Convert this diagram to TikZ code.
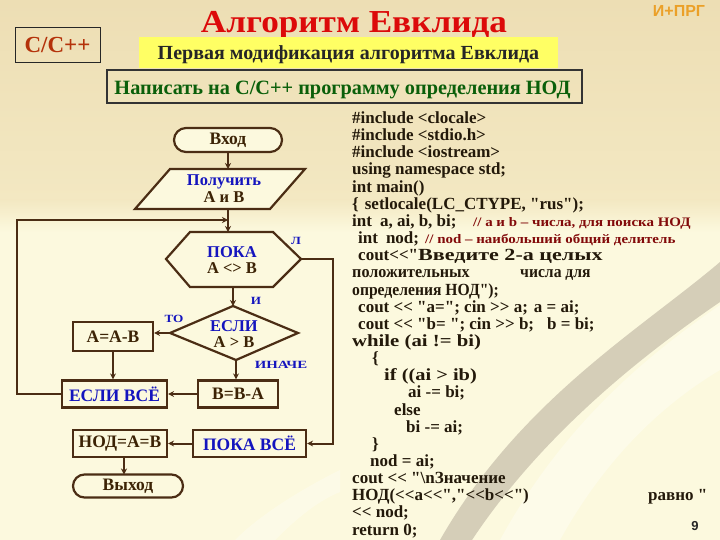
\documentclass[tikz,border=0pt]{standalone}
\usepackage{fontspec}
\setmainfont{Liberation Serif}[Ligatures=TeXOff]
\newfontfamily\mysans{Liberation Sans}
\usetikzlibrary{arrows.meta}
\definecolor{bgtop}{RGB}{237,222,180}
\definecolor{bgmid}{RGB}{243,232,194}
\definecolor{bgbot}{RGB}{252,249,222}
\definecolor{lnc}{RGB}{75,45,20}
\definecolor{kw}{RGB}{20,20,190}
\definecolor{tx}{RGB}{60,35,5}
\definecolor{cm}{RGB}{130,10,10}
\definecolor{codec}{RGB}{35,25,10}
\definecolor{titlered}{RGB}{220,10,10}
\definecolor{cpp}{RGB}{180,50,10}
\definecolor{ybox}{RGB}{255,255,100}
\definecolor{taskg}{RGB}{10,95,10}
\definecolor{iprg}{RGB}{235,160,40}
\definecolor{swoosh}{RGB}{200,192,172}
\newcommand\fsz[1]{\fontsize{#1}{#1}\selectfont\bfseries}
\newcommand\sx[2]{\scalebox{#1}[1]{#2}}
\begin{document}
\begin{tikzpicture}[x=1pt,y=-1pt,
  fbox/.style={draw=lnc,line width=2.2pt,fill=bgbot,inner sep=0pt,font=\fsz{17.5},text=tx},
  fshape/.style={draw=lnc,line width=2.2pt,fill=bgbot,line join=miter},
  arr/.style={draw=lnc,line width=2pt,-{Stealth[length=6pt,width=6pt]}},
  lbl/.style={font=\fsz{11},text=kw,inner sep=0pt},
  ftext/.style={anchor=base,font=\fsz{16.5},text=tx,inner sep=0pt},
  cl/.style={anchor=base west,inner sep=0pt,font=\fsz{17},text=codec},
  cmt/.style={anchor=base west,inner sep=0pt,font=\fsz{13},text=cm}]
\useasboundingbox (0,0) rectangle (720,540);
% background
\shade[top color=bgtop,bottom color=bgmid] (0,0) rectangle (720,200);
\shade[top color=bgmid,bottom color=bgbot] (0,200) rectangle (720,232);
\fill[bgbot] (0,232) rectangle (720,540);
\fill[swoosh,opacity=0.75] (720,262) .. controls (640,330) and (520,400) .. (440,540)
   -- (472,540) .. controls (545,430) and (650,350) .. (720,302) -- cycle;
\fill[white,opacity=0.35] (720,305) .. controls (640,360) and (560,430) .. (500,540)
   -- (560,540) .. controls (610,450) and (670,400) .. (720,370) -- cycle;
\fill[white,opacity=0.3] (340,470) .. controls (300,490) and (260,515) .. (235,540)
   -- (275,540) .. controls (300,515) and (320,500) .. (340,492) -- cycle;

% header
\node[draw=black!85,line width=1pt,minimum width=85pt,minimum height=35pt,inner sep=0pt,
      font=\fsz{23},text=cpp] (cbox) at (57.5,45) {C/C++};
\node[anchor=base,inner sep=0pt,font=\fsz{32},text=titlered] (title) at (354,33) {\sx{1.1}{Алгоритм Евклида}};
\node[anchor=base,inner sep=0pt,font=\mysans\fsz{16},text=iprg] (iprgt) at (679,17) {И+ПРГ};
\node[fill=ybox,minimum width=419pt,minimum height=31pt,inner sep=0pt] (yb) at (348.5,52.5) {};
\node[anchor=base,inner sep=0pt,font=\fsz{20},text=black!85] (sub) at (348.5,60) {Первая модификация алгоритма Евклида};
\node[draw=black!80,line width=1.5pt,minimum width=475pt,minimum height=33pt,inner sep=0pt] (task) at (344.5,86.5) {};
\node[anchor=base,inner sep=0pt,font=\fsz{20.3},text=taskg] (taskt) at (342.5,95) {Написать на С/С++ программу определения НОД};

% flowchart coordinates
\coordinate (parT) at (228,169);
\coordinate (parB) at (228,209);
\coordinate (hexT) at (228,232);
\coordinate (hexR) at (301,259);
\coordinate (hexB) at (233,287);
\coordinate (diaT) at (233,306);
\coordinate (diaL) at (170,333);
\coordinate (diaB) at (236,360);
\coordinate (lp1) at (17,394);
\coordinate (lp2) at (17,220);
\coordinate (lpj) at (228,220);
\coordinate (rp1) at (333,259);
\coordinate (rp2) at (333,443.5);

\node[fbox,rounded corners=12pt,minimum width=108pt,minimum height=24pt] (vhod) at (228,140) {Вход};
\draw[fshape] (170,169) -- (305,169) -- (270,209) -- (135,209) -- cycle;
\node[ftext,text=kw] (poluch1) at (224,186) {Получить};
\node[ftext] (poluch2) at (224,203) {А и В};
\draw[fshape] (190,232) -- (273,232) -- (301,259) -- (273,287) -- (190,287) -- (166,259) -- cycle;
\node[ftext,text=kw] (poka1) at (232,257) {ПОКА};
\node[ftext] (poka2) at (232,273) {А <> В};
\draw[fshape] (233,306) -- (298,333) -- (236,360) -- (170,333) -- cycle;
\node[ftext,text=kw] (esli1) at (234,331) {ЕСЛИ};
\node[ftext] (esli2) at (234,347) {А > В};

\node[fbox,minimum width=80pt,minimum height=29pt] (aab) at (113,336.5) {А=А-В};
\node[fbox,minimum width=105pt,minimum height=27pt,text=kw] (eslivse) at (114.5,394) {ЕСЛИ ВСЁ};
\node[fbox,minimum width=80pt,minimum height=27pt] (bba) at (238,394) {В=В-А};
\node[fbox,minimum width=94pt,minimum height=27pt] (nodb) at (120,443.5) {НОД=А=В};
\node[fbox,minimum width=113pt,minimum height=27pt,text=kw] (pokavse) at (249.5,443.5) {ПОКА ВСЁ};
\node[fbox,rounded corners=11.5pt,minimum width=110pt,minimum height=23pt] (vyhod) at (128,486) {Выход};

\node[lbl] (lL) at (296,241) {\sx{1.2}{Л}};
\node[lbl] (lI) at (256,301) {\sx{1.2}{И}};
\node[lbl] (lTO) at (174,319) {\sx{1.2}{ТО}};
\node[lbl] (lIN) at (281,365) {\sx{1.35}{ИНАЧЕ}};

\draw[arr] (vhod.south) -- (parT);
\draw[arr] (parB) -- (hexT);
\draw[arr] (eslivse.west) -- (lp1) -- (lp2) -- (lpj);
\draw[arr] (hexR) -- (rp1) -- (rp2) -- (pokavse.east);
\draw[arr] (hexB) -- (diaT);
\draw[arr] (diaL) -- (diaL -| aab.east);
\draw[arr] (diaB) -- (diaB |- bba.north);
\draw[arr] (aab.south) -- (aab.south |- eslivse.north);
\draw[arr] (bba.west) -- (eslivse.east);
\draw[arr] (pokavse.west) -- (nodb.east);
\draw[arr] (124,457) -- (124,474.5);

% code
\node[cl] (c1) at (352,123.5) {\#include <clocale>};
\node[cl] (c2) at (352,140.6) {\#include <stdio.h>};
\node[cl] (c3) at (352,157.8) {\#include <iostream>};
\node[cl] (c4) at (352,174.9) {using namespace std;};
\node[cl] (c5) at (352,192.1) {int main()};
\node[cl] (c6) at (352,209.2) {\{\hspace{6pt}setlocale(LC\_CTYPE, "rus");};
\node[cl] (c7) at (352,226.4) {int\hspace{8pt}a, ai, b, bi;};
\node[cmt] (k7) at (473,226.4) {\sx{1.15}{// а и b – числа, для поиска НОД}};
\node[cl] (c8) at (358,243.5) {int\hspace{8pt}nod;};
\node[cmt] (k8) at (425,243.5) {\sx{1.15}{// nod – наибольший общий делитель}};
\node[cl] (c9) at (358,260.7) {cout<<"\sx{1.3}{Введите 2-а целых}};
\node[cl] (c10) at (352,277.8) {\sx{0.95}{положительных}};
\node[cl] (c10b) at (520,277.8) {\sx{0.92}{числа для}};
\node[cl] (c11) at (352,295.0) {\sx{0.92}{определения НОД");}};
\node[cl] (c12) at (358,312.1) {cout << "a="; cin >> a;\hspace{6pt}a = ai;};
\node[cl] (c13) at (358,329.3) {cout << "b= "; cin >> b;\hspace{13pt}b = bi;};
\node[cl] (c14) at (352,346.4) {\sx{1.22}{while (ai != bi)}};
\node[cl] (c15) at (372,363.6) {\{};
\node[cl] (c16) at (384,380.7) {\sx{1.2}{if ((ai > ib)}};
\node[cl] (c17) at (408,397.9) {ai -= bi;};
\node[cl] (c18) at (394,415.0) {else};
\node[cl] (c19) at (406,432.2) {bi -= ai;};
\node[cl] (c20) at (372,449.3) {\}};
\node[cl] (c21) at (370,466.5) {nod = ai;};
\node[cl] (c22) at (352,483.6) {cout << "\textbackslash nЗначение};
\node[cl] (c23) at (352,500.8) {НОД(<<a<<","<<b<<")};
\node[cl] (c23b) at (648,500.8) {равно "};
\node[cl] (c24) at (352,517.9) {<< nod;};
\node[cl] (c25) at (352,535.0) {return 0;};
\node[anchor=base,inner sep=0pt,font=\mysans\fsz{13},text=black!85] (pg) at (695,530) {9};
\end{tikzpicture}
\end{document}
